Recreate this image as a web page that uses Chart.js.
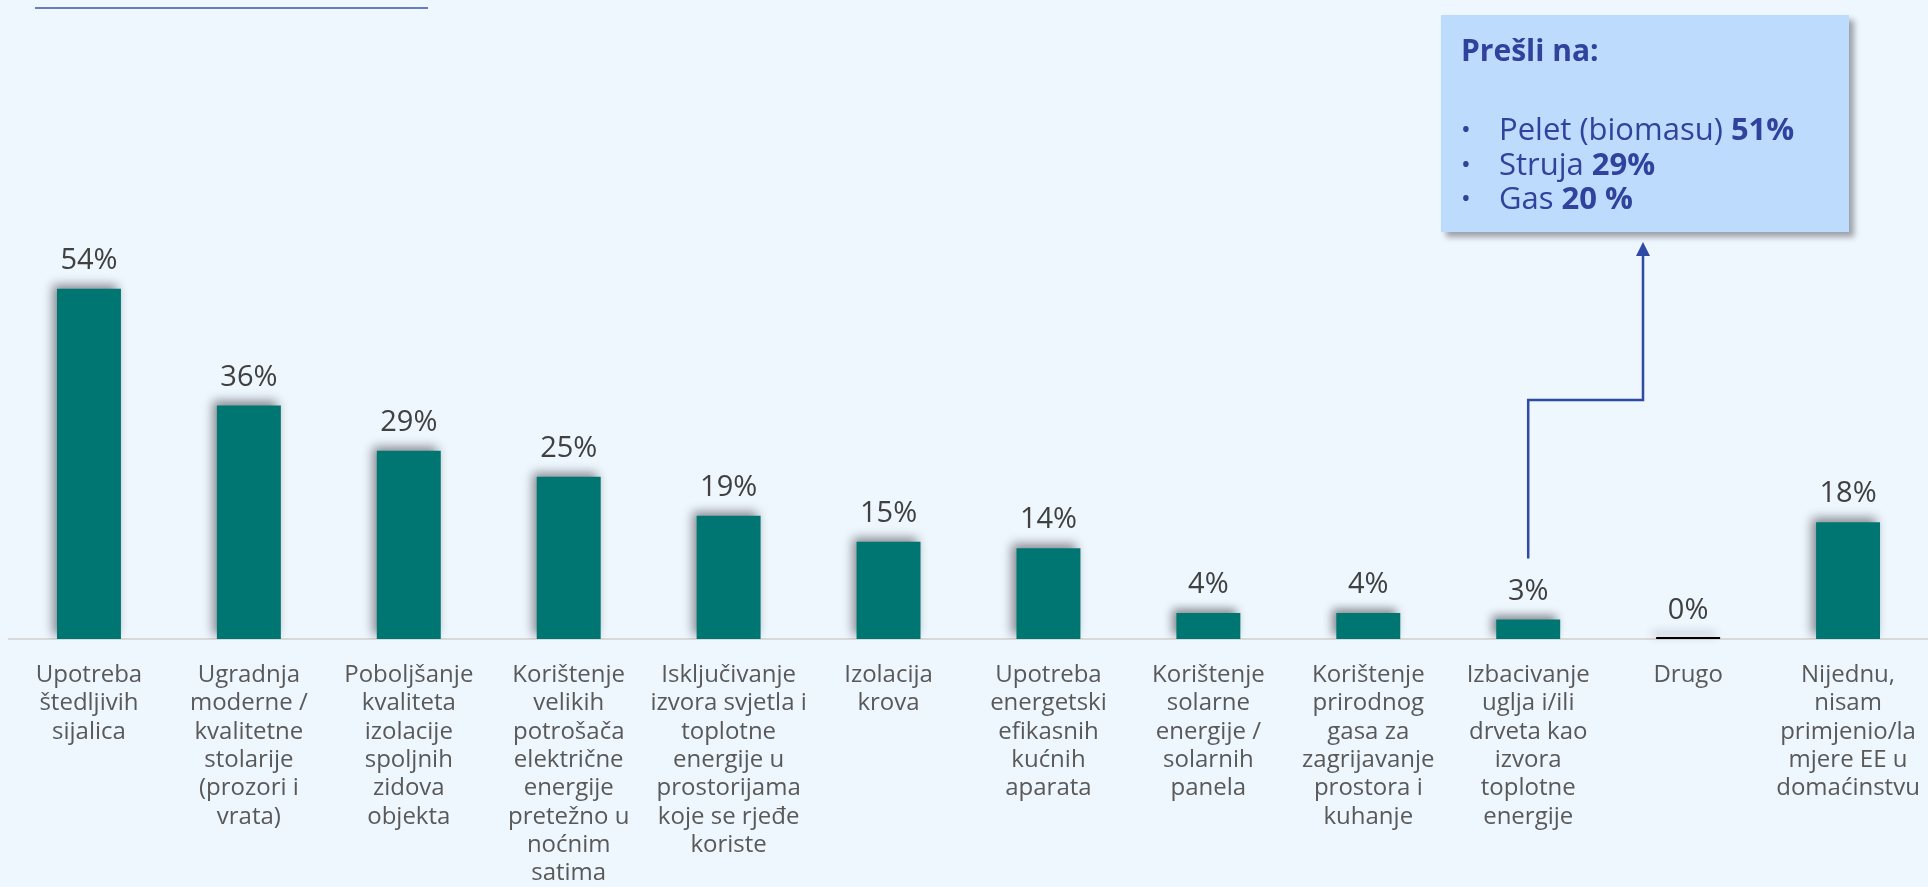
<!DOCTYPE html>
<html>
<head>
<meta charset="utf-8">
<script src="https://cdn.jsdelivr.net/npm/chart.js@4"></script>
<style>
  body { margin: 0; background: #eef6fe; font-family: 'Open Sans', sans-serif; }
  #wrap { position: relative; width: 1928px; height: 887px; }
  #chart { position: absolute; left: 0; top: 0; }
  #topLine { position: absolute; left: 35px; top: 7px; width: 393px; height: 2px; background: #6b7dc2; }
  #callout {
    position: absolute; left: 1441px; top: 15px; width: 408px; height: 217px;
    background: #bddbfc; box-shadow: 5px 5px 6px rgba(0,0,0,0.35);
    color: #2f429c; box-sizing: border-box; padding: 17px 0 0 20px;
  }
  #callout h3 { margin: 0; font-size: 30px; font-weight: 700; line-height: 36px; }
  #callout ul { margin: 43px 0 0 0; padding: 0; list-style: none; }
  #callout li { font-size: 31px; line-height: 34.5px; position: relative; padding-left: 38px; }
  #callout li::before { content: '•'; position: absolute; left: 0px; font-size: 26px; }
</style>
</head>
<body>
<div id="wrap">
  <canvas id="chart" width="1928" height="887"></canvas>
  <div id="topLine"></div>
  <div id="callout">
    <h3 id="calloutTitle"></h3>
    <ul id="calloutList"></ul>
  </div>
</div>
<script>
const categories = [
    ['Upotreba', 'štedljivih', 'sijalica'],
    ['Ugradnja', 'moderne /', 'kvalitetne', 'stolarije', '(prozori i', 'vrata)'],
    ['Poboljšanje', 'kvaliteta', 'izolacije', 'spoljnih', 'zidova', 'objekta'],
    ['Korištenje', 'velikih', 'potrošača', 'električne', 'energije', 'pretežno u', 'noćnim', 'satima'],
    ['Isključivanje', 'izvora svjetla i', 'toplotne', 'energije u', 'prostorijama', 'koje se rjeđe', 'koriste'],
    ['Izolacija', 'krova'],
    ['Upotreba', 'energetski', 'efikasnih', 'kućnih', 'aparata'],
    ['Korištenje', 'solarne', 'energije /', 'solarnih', 'panela'],
    ['Korištenje', 'prirodnog', 'gasa za', 'zagrijavanje', 'prostora i', 'kuhanje'],
    ['Izbacivanje', 'uglja i/ili', 'drveta kao', 'izvora', 'toplotne', 'energije'],
    ['Drugo'],
    ['Nijednu,', 'nisam', 'primjenio/la', 'mjere EE u', 'domaćinstvu']
];
const values = [54, 36, 29, 25, 19, 15, 14, 4, 4, 3, 0, 18];
const valueLabels = ['54%', '36%', '29%', '25%', '19%', '15%', '14%', '4%', '4%', '3%', '0%', '18%'];

const calloutTitle = 'Prešli na:';
const calloutItems = ['Pelet (biomasu)', 'Struja', 'Gas'];
const calloutValues = ['51%', '29%', '20 %'];
const calloutFrom = 9; // index of the bar the arrow starts from

document.getElementById('calloutTitle').textContent = calloutTitle;
const list = document.getElementById('calloutList');
calloutItems.forEach((item, i) => {
    const li = document.createElement('li');
    li.textContent = item + ' ';
    const b = document.createElement('b');
    b.textContent = calloutValues[i];
    li.appendChild(b);
    list.appendChild(li);
});

const FONT = "'Open Sans', sans-serif";

// shadow for bars, value labels, zero marker and the arrow to the callout
const barExtras = {
    id: 'barExtras',
    beforeDatasetsDraw(chart) {
        const ctx = chart.ctx;
        ctx.save();
        ctx.shadowColor = 'rgba(0,0,0,0.45)';
        ctx.shadowBlur = 10;
        ctx.shadowOffsetX = -4;
        ctx.shadowOffsetY = -4;
    },
    afterDatasetsDraw(chart) {
        const ctx = chart.ctx;
        const meta = chart.getDatasetMeta(0);
        // zero value bars get a thin dark line
        meta.data.forEach((bar, i) => {
            if (values[i] === 0) {
                ctx.fillStyle = '#000000';
                ctx.fillRect(bar.x - bar.width / 2, bar.y - 2, bar.width, 2);
            }
        });
        ctx.restore();

        ctx.save();
        ctx.font = '29px ' + FONT;
        ctx.fillStyle = '#404040';
        ctx.textAlign = 'center';
        ctx.textBaseline = 'middle';
        meta.data.forEach((bar, i) => {
            ctx.fillText(valueLabels[i], bar.x, bar.y - 28);
        });

        // arrow from the bar label up to the callout box
        const src = meta.data[calloutFrom];
        const x0 = src.x, y0 = src.y - 61;
        const x1 = 1643, yMid = 400, yTip = 242;
        ctx.strokeStyle = '#2f4aa5';
        ctx.fillStyle = '#2f4aa5';
        ctx.lineWidth = 2.5;
        ctx.beginPath();
        ctx.moveTo(x0, y0);
        ctx.lineTo(x0, yMid);
        ctx.lineTo(x1, yMid);
        ctx.lineTo(x1, yTip + 12);
        ctx.stroke();
        ctx.beginPath();
        ctx.moveTo(x1, yTip);
        ctx.lineTo(x1 - 7, yTip + 14);
        ctx.lineTo(x1 + 7, yTip + 14);
        ctx.closePath();
        ctx.fill();
        ctx.restore();
    }
};

const ctx = document.getElementById('chart').getContext('2d');
const chart = new Chart(ctx, {
    type: 'bar',
    data: {
        labels: categories,
        datasets: [{
            data: values,
            backgroundColor: '#007672',
            barPercentage: 0.4,
            categoryPercentage: 1.0
        }]
    },
    options: {
        responsive: false,
        animation: false,
        layout: { padding: { left: 9, right: 0, top: 0, bottom: 0 } },
        plugins: {
            legend: { display: false },
            tooltip: { enabled: false }
        },
        scales: {
            x: {
                grid: { display: false, drawTicks: false },
                border: { display: true, color: '#d9d9d9', width: 2 },
                ticks: {
                    autoSkip: false,
                    maxRotation: 0,
                    minRotation: 0,
                    padding: 22,
                    color: '#595959',
                    font: { family: FONT, size: 24, lineHeight: 1.18 }
                },
                afterFit(scale) {
                    scale.height = 248;
                    scale.paddingLeft = 0;
                    scale.paddingRight = 0;
                }
            },
            y: {
                display: false,
                min: 0,
                max: 98.5
            }
        }
    },
    plugins: [barExtras]
});
</script>
</body>
</html>
